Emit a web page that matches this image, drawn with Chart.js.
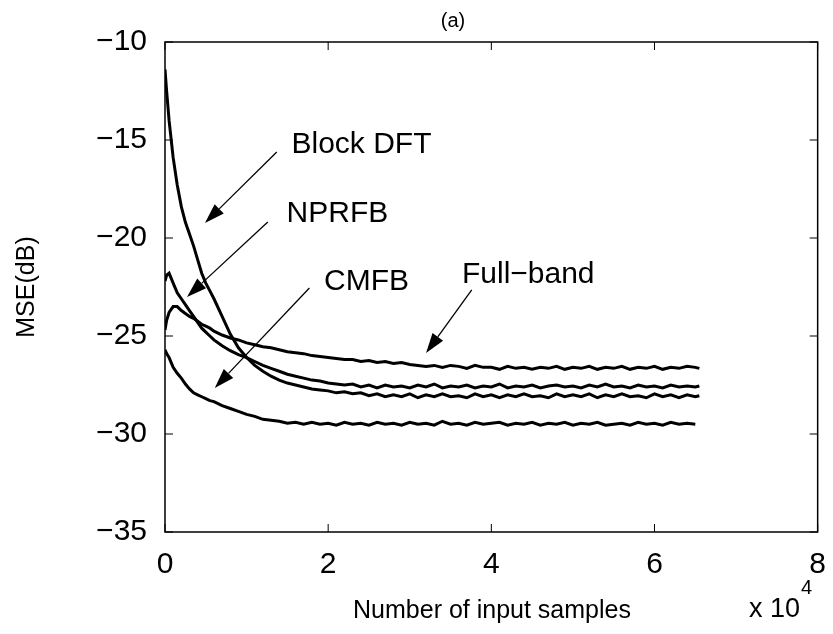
<!DOCTYPE html>
<html>
<head>
<meta charset="utf-8">
<script src="https://cdn.jsdelivr.net/npm/chart.js@4/dist/chart.umd.min.js"></script>
<style>
  html, body { margin: 0; padding: 0; background: #fff; }
  #chart { display: block; }
</style>
</head>
<body>
<canvas id="chart" width="833" height="634"></canvas>
<script>
// samples (x 10^4)
const xs = [
  0, 0.02, 0.05, 0.1, 0.15, 0.2, 0.25, 0.3, 0.35, 0.4, 0.45, 0.5, 0.55,
  0.6, 0.7, 0.8, 0.9,
  1.0, 1.1, 1.2, 1.3, 1.4, 1.5, 1.6, 1.7, 1.8, 1.9,
  2.0, 2.1, 2.2, 2.3, 2.4, 2.5, 2.6, 2.7, 2.8, 2.9,
  3.0, 3.1, 3.2, 3.3, 3.4, 3.5, 3.6, 3.7, 3.8, 3.9,
  4.0, 4.1, 4.2, 4.3, 4.4, 4.5, 4.6, 4.7, 4.8, 4.9,
  5.0, 5.1, 5.2, 5.3, 5.4, 5.5, 5.6, 5.7, 5.8, 5.9,
  6.0, 6.1, 6.2, 6.3, 6.4, 6.5,
  6.55
];

// MSE in dB
const blockDft = [
  -11.4, -12.5, -14.0, -15.9, -17.3, -18.4, -19.2, -19.8, -20.4, -21.1, -21.8, -22.3, -22.7,
  -23.1, -24.0, -24.9, -25.6,
  -26.1, -26.5, -26.8, -27.05, -27.25, -27.4, -27.5, -27.6, -27.7, -27.75,
  -27.8, -27.9, -27.85, -27.95, -27.9, -28.05, -27.95, -28.1, -28.0, -28.1,
  -27.95, -28.15, -28.0, -28.1, -27.95, -28.1, -28.05, -28.15, -27.95, -28.1,
  -28.0, -28.15, -28.0, -28.1, -27.95, -28.1, -28.05, -28.15, -27.95, -28.1,
  -28.0, -28.1, -27.95, -28.15, -28.0, -28.1, -27.95, -28.1, -28.05, -28.15,
  -27.95, -28.1, -28.0, -28.15, -28.0, -28.1,
  -28.05
];

const nprfb = [
  -22.2, -21.9, -21.8, -22.3, -22.8, -23.1, -23.4, -23.7, -24.0, -24.3, -24.6, -24.8, -25.0,
  -25.2, -25.5, -25.75, -25.95,
  -26.1, -26.3, -26.5, -26.65, -26.8, -26.95, -27.05, -27.15, -27.25, -27.3,
  -27.4, -27.45, -27.5, -27.45, -27.6, -27.5, -27.65, -27.5, -27.6, -27.55,
  -27.65, -27.5, -27.6, -27.45, -27.65, -27.55, -27.6, -27.5, -27.65, -27.55,
  -27.6, -27.45, -27.65, -27.55, -27.6, -27.5, -27.65, -27.55, -27.5, -27.6,
  -27.55, -27.65, -27.5, -27.6, -27.45, -27.6, -27.55, -27.65, -27.5, -27.6,
  -27.55, -27.65, -27.5, -27.6, -27.55, -27.6,
  -27.55
];

const fullBand = [
  -24.7, -24.2, -23.8, -23.5, -23.5, -23.7, -23.85, -24.0, -24.1, -24.25, -24.4, -24.5, -24.6,
  -24.75, -24.95, -25.1, -25.2,
  -25.35, -25.45, -25.55, -25.6, -25.7, -25.8, -25.85, -25.9, -26.0, -26.05,
  -26.1, -26.15, -26.2, -26.2, -26.3, -26.25, -26.35, -26.3, -26.4, -26.35,
  -26.45, -26.5, -26.55, -26.5, -26.6, -26.5, -26.55, -26.65, -26.5, -26.6,
  -26.6, -26.7, -26.55, -26.65, -26.6, -26.7, -26.6, -26.65, -26.55, -26.7,
  -26.6, -26.65, -26.55, -26.7, -26.6, -26.65, -26.55, -26.7, -26.6, -26.65,
  -26.55, -26.7, -26.6, -26.65, -26.55, -26.6,
  -26.65
];

const cmfb = [
  -25.7, -25.9, -26.1, -26.6, -26.9, -27.15, -27.45, -27.7, -27.9, -28.0, -28.1, -28.2, -28.3,
  -28.35, -28.55, -28.7, -28.85,
  -29.0, -29.1, -29.25, -29.3, -29.35, -29.45, -29.4, -29.5, -29.4, -29.5,
  -29.45, -29.55, -29.4, -29.5, -29.45, -29.55, -29.4, -29.5, -29.45, -29.55,
  -29.4, -29.5, -29.45, -29.55, -29.35, -29.5, -29.45, -29.55, -29.4, -29.5,
  -29.45, -29.4, -29.55, -29.45, -29.5, -29.4, -29.55, -29.45, -29.5, -29.4,
  -29.55, -29.45, -29.5, -29.4, -29.55, -29.5, -29.45, -29.55, -29.4, -29.5,
  -29.45, -29.55, -29.4, -29.5, -29.45, -29.5,
  null
];

const xTicks = [0, 2, 4, 6, 8];
const yTicks = [-35, -30, -25, -20, -15, -10];

// callouts: text anchor, arrow tail and tip, all in data units
const callouts = [
  { text: "Block DFT", at: [1.55, -15.66], from: [1.37, -15.61], to: [0.49, -19.23] },
  { text: "NPRFB", at: [1.49, -19.18], from: [1.26, -19.18], to: [0.27, -23.01] },
  { text: "CMFB", at: [1.95, -22.65], from: [1.77, -22.55], to: [0.61, -27.65] },
  { text: "Full\u2212band", at: [3.64, -22.3], from: [3.76, -22.65], to: [3.2, -25.87] }
];

const FONT = "'Liberation Sans', Arial, Helvetica, sans-serif";

function toPoints(ys) {
  return xs.map((x, i) => ({ x: x, y: ys[i] }));
}

function series(label, ys) {
  return {
    label: label,
    data: toPoints(ys),
    borderColor: "#000",
    borderWidth: 3,
    pointRadius: 0,
    tension: 0,
    spanGaps: false
  };
}

function arrow(ctx, x1, y1, x2, y2) {
  const ang = Math.atan2(y2 - y1, x2 - x1);
  const len = 20, half = 6.5;
  const bx = x2 - len * Math.cos(ang);
  const by = y2 - len * Math.sin(ang);
  ctx.beginPath();
  ctx.moveTo(x1, y1);
  ctx.lineTo(bx, by);
  ctx.lineWidth = 1.3;
  ctx.stroke();
  ctx.beginPath();
  ctx.moveTo(x2, y2);
  ctx.lineTo(bx + half * Math.sin(ang), by - half * Math.cos(ang));
  ctx.lineTo(bx - half * Math.sin(ang), by + half * Math.cos(ang));
  ctx.closePath();
  ctx.fill();
}

const matlabFrame = {
  id: "matlabFrame",
  afterDatasetsDraw(chart) {
    const ctx = chart.ctx;
    const a = chart.chartArea;
    const sx = chart.scales.x;
    const sy = chart.scales.y;
    ctx.save();
    ctx.strokeStyle = "#000";
    ctx.fillStyle = "#000";

    // box
    ctx.lineWidth = 1.5;
    ctx.strokeRect(a.left, a.top, a.right - a.left, a.bottom - a.top);

    // inward ticks on all four sides
    const tl = 8;
    ctx.lineWidth = 1;
    ctx.beginPath();
    xTicks.forEach((v) => {
      const px = sx.getPixelForValue(v);
      ctx.moveTo(px, a.bottom); ctx.lineTo(px, a.bottom - tl);
      ctx.moveTo(px, a.top); ctx.lineTo(px, a.top + tl);
    });
    yTicks.forEach((v) => {
      const py = sy.getPixelForValue(v);
      ctx.moveTo(a.left, py); ctx.lineTo(a.left + tl, py);
      ctx.moveTo(a.right, py); ctx.lineTo(a.right - tl, py);
    });
    ctx.stroke();

    // callouts
    ctx.font = "30px " + FONT;
    ctx.textAlign = "left";
    ctx.textBaseline = "alphabetic";
    callouts.forEach((c) => {
      ctx.fillText(c.text, sx.getPixelForValue(c.at[0]), sy.getPixelForValue(c.at[1]));
      arrow(ctx,
        sx.getPixelForValue(c.from[0]), sy.getPixelForValue(c.from[1]),
        sx.getPixelForValue(c.to[0]), sy.getPixelForValue(c.to[1]));
    });

    // title
    ctx.font = "20px " + FONT;
    ctx.textAlign = "center";
    ctx.textBaseline = "middle";
    ctx.fillText("(a)", 453, 21);

    // x axis title and exponent
    ctx.font = "25px " + FONT;
    ctx.fillText("Number of input samples", 492, 611);
    ctx.textAlign = "left";
    ctx.font = "27px " + FONT;
    ctx.fillText("x 10", 749, 610);
    ctx.font = "20px " + FONT;
    ctx.fillText("4", 801, 588);

    // y axis title
    ctx.save();
    ctx.translate(27, 287);
    ctx.rotate(-Math.PI / 2);
    ctx.textAlign = "center";
    ctx.font = "25px " + FONT;
    ctx.fillText("MSE(dB)", 0, 0);
    ctx.restore();

    ctx.restore();
  }
};

new Chart(document.getElementById("chart"), {
  type: "line",
  data: {
    datasets: [
      series("Block DFT", blockDft),
      series("NPRFB", nprfb),
      series("Full-band", fullBand),
      series("CMFB", cmfb)
    ]
  },
  options: {
    responsive: false,
    animation: false,
    devicePixelRatio: 1,
    layout: { padding: { top: 42, right: 13, left: 0, bottom: 0 } },
    plugins: {
      legend: { display: false },
      tooltip: { enabled: false },
      title: { display: false }
    },
    scales: {
      x: {
        type: "linear",
        min: 0,
        max: 8,
        afterBuildTicks: (s) => { s.ticks = xTicks.map((v) => ({ value: v })); },
        afterFit: (s) => { s.height = 102; },
        grid: { display: false },
        border: { display: false },
        ticks: {
          color: "#000",
          padding: 7,
          maxRotation: 0,
          font: { family: FONT, size: 30 },
          callback: (v) => String(v)
        }
      },
      y: {
        type: "linear",
        min: -35,
        max: -10,
        afterBuildTicks: (s) => { s.ticks = yTicks.map((v) => ({ value: v })); },
        afterFit: (s) => { s.width = 165; },
        grid: { display: false },
        border: { display: false },
        ticks: {
          color: "#000",
          padding: 10,
          font: { family: FONT, size: 30 },
          callback: (v) => (v < 0 ? "\u2212" + Math.abs(v) : String(v))
        }
      }
    }
  },
  plugins: [matlabFrame]
});
</script>
</body>
</html>
